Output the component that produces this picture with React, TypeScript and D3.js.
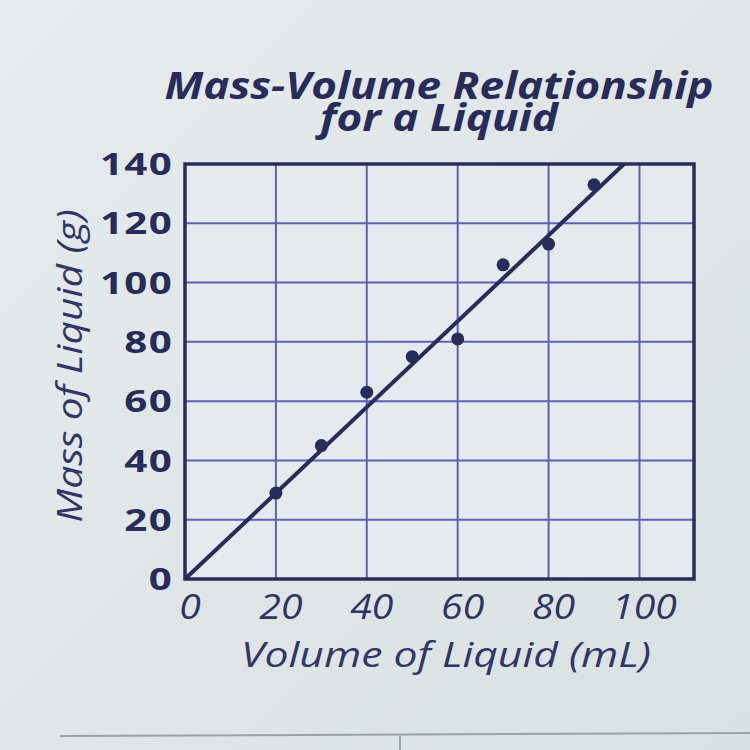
import React from "react";
import * as d3 from "d3";

const volumes = [20, 30, 40, 50, 60, 70, 80, 90];
const masses = [29, 45, 63, 75, 81, 106, 113, 133];
const fitLineX = [0, 96.6];
const fitLineY = [0, 140];
const xTicks = [0, 20, 40, 60, 80, 100];
const xGrid = [20, 40, 60, 80, 100];
const yTicks = [0, 20, 40, 60, 80, 100, 120, 140];
const titleLines = ["Mass-Volume Relationship", "for a Liquid"];
const xLabel = "Volume of Liquid (mL)";
const yLabel = "Mass of Liquid (g)";

const W = 750, H = 750;
const L = 185, R = 694, T = 164, B = 579;
const ink = "#272c5c";
const grid = "#5a60b8";
const font = "'Open Sans', 'Noto Sans', sans-serif";

export default function App() {
  const x = d3.scaleLinear().domain([0, 112]).range([L, R]);
  const y = d3.scaleLinear().domain([0, 140]).range([B, T]);
  const line = d3.line<number>().x((d) => x(d)).y((_, i) => y(fitLineY[i]));
  return (
    <svg width={W} height={H} style={{ position: "absolute", left: 0, top: 0 }}>
      <defs>
        <linearGradient id="bg" x1="0" y1="0" x2="1" y2="1">
          <stop offset="0" stopColor="#e6ebed" />
          <stop offset="1" stopColor="#dae1e3" />
        </linearGradient>
      </defs>
      <rect width={W} height={H} fill="url(#bg)" />
      <line x1={60} x2={750} y1={736} y2={733} stroke="#9aa2a6" strokeWidth={2} />
      <line x1={400} x2={400} y1={736} y2={750} stroke="#9aa2a6" strokeWidth={2} />
      <rect x={L} y={T} width={R - L} height={B - T} fill="#e5eaee" />
      {xGrid.map((v) => (
        <line key={"gx" + v} x1={x(v)} x2={x(v)} y1={T} y2={B} stroke={grid} strokeWidth={2} />
      ))}
      {yTicks.slice(1, -1).map((v) => (
        <line key={"gy" + v} x1={L} x2={R} y1={y(v)} y2={y(v)} stroke={grid} strokeWidth={2} />
      ))}
      <rect x={L} y={T} width={R - L} height={B - T} fill="none" stroke={ink} strokeWidth={3.5} />
      <path d={line(fitLineX) || ""} stroke={ink} strokeWidth={4} fill="none" />
      {volumes.map((v, i) => (
        <circle key={"p" + i} cx={x(v)} cy={y(masses[i])} r={6.5} fill={ink} />
      ))}
      {yTicks.map((v) => (
        <text key={"ty" + v} transform={`translate(${L - 12},${y(v)}) scale(1.3,1)`} dy="0.36em" textAnchor="end"
          fontFamily={font} fontSize={31} fontWeight={700} letterSpacing={1} fill={ink}>{v}</text>
      ))}
      {xTicks.map((v) => (
        <text key={"tx" + v} transform={`translate(${x(v) + 5},${B + 40}) scale(1.12,1)`} textAnchor="middle"
          fontFamily={font} fontSize={35} fontWeight={500} fontStyle="italic" fill="#2e3466">{v}</text>
      ))}
      <text transform={`translate(446,667) scale(1.22,1)`} textAnchor="middle" fontFamily={font} fontSize={35}
        fontStyle="italic" fill="#30366a">{xLabel}</text>
      <text transform={`translate(82,366) rotate(-90) scale(1.16,1)`} textAnchor="middle" fontFamily={font}
        fontSize={35} fontStyle="italic" fill="#30366a">{yLabel}</text>
      {titleLines.map((t, i) => (
        <text key={"tt" + i} transform={`translate(439,${99 + i * 32}) scale(1.16,1)`} textAnchor="middle"
          fontFamily={font} fontSize={38} fontWeight={700} fontStyle="italic" fill={ink}>{t}</text>
      ))}
    </svg>
  );
}
